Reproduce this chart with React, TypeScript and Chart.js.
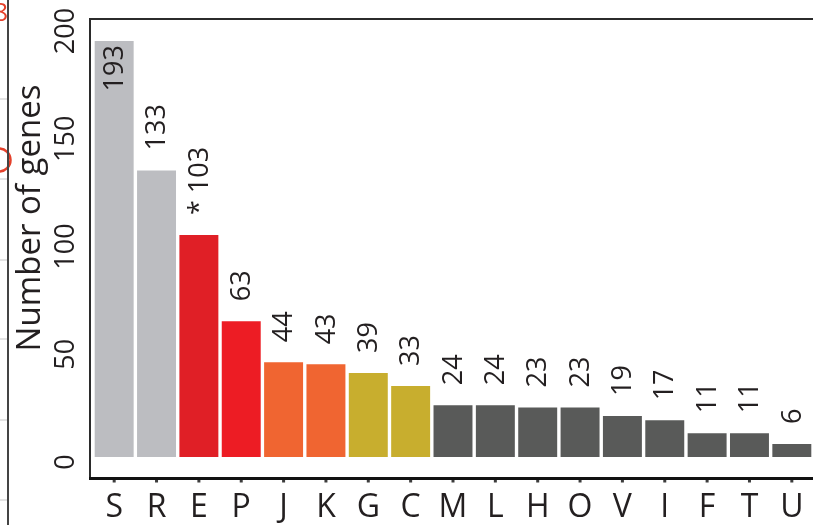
import React, { useEffect, useRef } from "react";
import { Chart, registerables } from "chart.js";

Chart.register(...registerables);

// COG functional categories and the number of genes in each
const categories = ["S", "R", "E", "P", "J", "K", "G", "C", "M", "L", "H", "O", "V", "I", "F", "T", "U"];
const geneCounts = [193, 133, 103, 63, 44, 43, 39, 33, 24, 24, 23, 23, 19, 17, 11, 11, 6];
const markers = ["", "", "*", "", "", "", "", "", "", "", "", "", "", "", "", "", ""];
const yTicks = [0, 50, 100, 150, 200];
const yTitle = "Number of genes";

const GREY = "#bcbdc1";
const DARK = "#595a59";
const barColors = [
  GREY, GREY, "#e01f26", "#ed1c24", "#f06531", "#f06531", "#c8ae2e", "#c8ae2e",
  DARK, DARK, DARK, DARK, DARK, DARK, DARK, DARK, DARK,
];

const FONT = '"Open Sans", "Noto Sans", sans-serif';
const INK = "#231f20";

const decorations = {
  id: "decorations",
  afterDatasetsDraw(chart: any) {
    const { ctx, chartArea: a, scales } = chart;
    const xs = scales.x;
    const ys = scales.y;
    ctx.save();

    // neighbouring panel edge on the far left
    ctx.strokeStyle = "#e3e3e3";
    ctx.lineWidth = 2;
    [99, 179, 260, 339, 420, 500].forEach((gy) => {
      ctx.beginPath();
      ctx.moveTo(0, gy);
      ctx.lineTo(7, gy);
      ctx.stroke();
    });
    ctx.strokeStyle = "#e4412b";
    ctx.lineWidth = 2.5;
    ctx.beginPath();
    ctx.arc(-1, 160, 11.5, 0, Math.PI * 2);
    ctx.stroke();
    ctx.fillStyle = "#e4412b";
    ctx.font = `26px ${FONT}`;
    ctx.textAlign = "right";
    ctx.textBaseline = "alphabetic";
    ctx.fillText("8", 8, 21);
    ctx.strokeStyle = "#444";
    ctx.lineWidth = 2;
    ctx.beginPath();
    ctx.moveTo(8, 0);
    ctx.lineTo(8, chart.height);
    ctx.stroke();

    // plot frame: left and top edges, heavy bottom axis
    ctx.strokeStyle = "#2b2b2b";
    ctx.lineWidth = 2;
    ctx.beginPath();
    ctx.moveTo(a.left - 3, a.bottom + 22);
    ctx.lineTo(a.left - 3, a.top - 7);
    ctx.lineTo(a.right, a.top - 7);
    ctx.stroke();
    ctx.strokeStyle = "#111";
    ctx.lineWidth = 3;
    ctx.beginPath();
    ctx.moveTo(a.left - 4, a.bottom + 21.5);
    ctx.lineTo(a.right, a.bottom + 21.5);
    ctx.stroke();

    // category ticks and labels
    ctx.fillStyle = "#3d3d3d";
    categories.forEach((_, i) => {
      const cx = xs.getPixelForValue(i);
      ctx.fillRect(cx - 1.5, a.bottom + 23, 3, 2.5);
    });
    ctx.fillStyle = INK;
    ctx.font = `32px ${FONT}`;
    ctx.textAlign = "center";
    ctx.textBaseline = "alphabetic";
    categories.forEach((c, i) => {
      ctx.fillText(c, xs.getPixelForValue(i), a.bottom + 60);
    });

    // value axis labels, rotated
    ctx.font = `27px ${FONT}`;
    ctx.textBaseline = "middle";
    yTicks.forEach((v) => {
      ctx.save();
      ctx.translate(a.left - 27, ys.getPixelForValue(v) + 5);
      ctx.rotate(-Math.PI / 2);
      ctx.textAlign = "center";
      ctx.fillText(String(v), 0, 0);
      ctx.restore();
    });

    // axis title
    ctx.save();
    ctx.font = `33px ${FONT}`;
    ctx.translate(40, 218);
    ctx.rotate(-Math.PI / 2);
    ctx.textAlign = "center";
    ctx.textBaseline = "alphabetic";
    ctx.fillText(yTitle, 0, 0);
    ctx.restore();

    // value labels above each bar (inside when there is no room)
    ctx.font = `27px ${FONT}`;
    ctx.textBaseline = "middle";
    const gap = 20;
    geneCounts.forEach((v, i) => {
      const cx = xs.getPixelForValue(i);
      const top = ys.getPixelForValue(v);
      const text = String(v);
      const w = ctx.measureText(text).width;
      const mark = markers[i];
      const markW = mark ? ctx.measureText(mark + " ").width : 0;
      ctx.save();
      ctx.translate(cx + 1, 0);
      ctx.rotate(-Math.PI / 2);
      if (top - gap - markW - w < a.top - 7) {
        ctx.textAlign = "right";
        ctx.fillText(text, -(top + 4), 0);
      } else {
        ctx.textAlign = "left";
        if (mark) ctx.fillText(mark, -(top - gap), 0);
        ctx.fillText(text, -(top - gap) + markW, 0);
      }
      ctx.restore();
    });

    ctx.restore();
  },
};

export default function App() {
  const canvasRef = useRef<HTMLCanvasElement | null>(null);

  useEffect(() => {
    document.body.style.margin = "0";
    const canvas = canvasRef.current;
    if (!canvas) return;
    const chart = new Chart(canvas, {
      type: "bar",
      data: {
        labels: categories,
        datasets: [
          {
            data: geneCounts,
            backgroundColor: barColors,
            borderWidth: 0,
            barPercentage: 0.92,
            categoryPercentage: 1,
          },
        ],
      },
      options: {
        animation: false,
        responsive: true,
        maintainAspectRatio: false,
        events: [],
        layout: { padding: { left: 93, right: 0, top: 26, bottom: 68 } },
        plugins: { legend: { display: false }, tooltip: { enabled: false } },
        scales: {
          x: { display: false },
          y: { display: false, min: 0, max: 200 },
        },
      },
      plugins: [decorations],
    });
    let alive = true;
    if ((document as any).fonts?.load) {
      (document as any).fonts.load(`27px "Open Sans"`).then(() => {
        if (alive) chart.update();
      });
    }
    return () => {
      alive = false;
      chart.destroy();
    };
  }, []);

  return (
    <div style={{ position: "relative", width: 813, height: 525, background: "#fff" }}>
      <canvas ref={canvasRef} />
    </div>
  );
}
